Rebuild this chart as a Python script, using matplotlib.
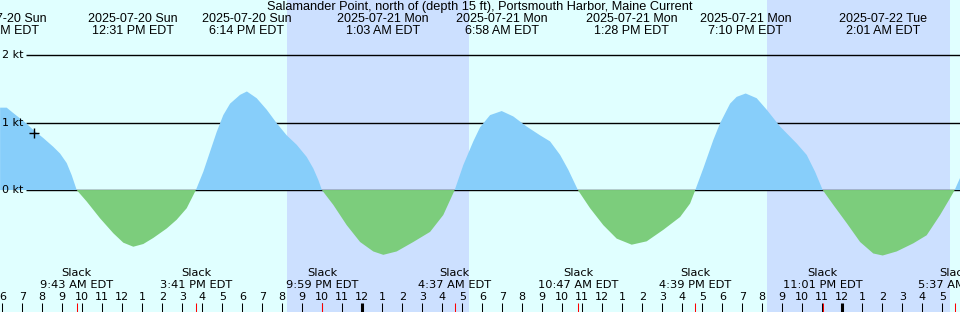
import numpy as np
import matplotlib.pyplot as plt

# --- Data (hours counted from 2025-07-20 00:00 EDT)
title = "Salamander Point, north of (depth 15 ft), Portsmouth Harbor, Maine Current"

curve_h = [5.89, 6.22, 6.55, 6.89, 7.19, 7.55, 8.05, 8.55, 8.89, 9.22, 9.47, 9.72,
           10.22, 10.89, 11.55, 12.05, 12.55, 13.05, 13.55, 14.22, 14.72, 15.22, 15.68,
           16.05, 16.39, 16.72, 17.05, 17.39, 17.89, 18.23, 18.72, 19.22, 19.72, 20.22,
           20.72, 21.22, 21.55, 21.80, 21.98,
           22.55, 23.22, 23.89, 24.55, 25.05, 25.72, 26.55, 27.39, 28.05, 28.62,
           29.05, 29.55, 29.89, 30.39, 30.97, 31.55, 32.22, 32.89, 33.39, 33.89, 34.30, 34.78,
           35.39, 36.05, 36.72, 37.47, 38.22, 39.05, 39.89, 40.39, 40.65,
           41.05, 41.55, 41.89, 42.39, 42.72, 43.17, 43.72, 44.22, 44.89, 45.72, 46.22, 46.64, 47.02,
           47.55, 48.22, 48.89, 49.55, 50.02, 50.72, 51.55, 52.22, 52.89, 53.39, 53.62, 53.89]
curve_kt = [1.22, 1.22, 1.14, 1.06, 0.99, 0.89, 0.77, 0.64, 0.54, 0.40, 0.22, 0.0,
            -0.17, -0.42, -0.64, -0.78, -0.84, -0.80, -0.71, -0.57, -0.44, -0.27, 0.0,
            0.27, 0.57, 0.86, 1.11, 1.28, 1.41, 1.46, 1.36, 1.19, 0.99, 0.81,
            0.67, 0.49, 0.32, 0.15, 0.0,
            -0.22, -0.52, -0.77, -0.91, -0.96, -0.91, -0.77, -0.62, -0.37, 0.0,
            0.37, 0.72, 0.93, 1.11, 1.17, 1.09, 0.94, 0.81, 0.72, 0.52, 0.30, 0.0,
            -0.27, -0.52, -0.72, -0.81, -0.76, -0.59, -0.40, -0.20, 0.0,
            0.32, 0.74, 0.99, 1.28, 1.38, 1.43, 1.36, 1.19, 0.94, 0.69, 0.52, 0.27, 0.0,
            -0.22, -0.49, -0.77, -0.94, -0.97, -0.91, -0.79, -0.67, -0.37, -0.12, 0.0, 0.18]

max_h = [5.98, 12.52, 18.23, 25.05, 30.97, 37.47, 43.17, 50.02]
max_dates = ["2025-07-20 Sun", "2025-07-20 Sun", "2025-07-20 Sun", "2025-07-21 Mon",
             "2025-07-21 Mon", "2025-07-21 Mon", "2025-07-21 Mon", "2025-07-22 Tue"]
max_times = ["5:59 AM EDT", "12:31 PM EDT", "6:14 PM EDT", "1:03 AM EDT",
             "6:58 AM EDT", "1:28 PM EDT", "7:10 PM EDT", "2:01 AM EDT"]

slack_h = [9.72, 15.68, 21.98, 28.62, 34.78, 40.65, 47.02, 53.62]
slack_times = ["9:43 AM EDT", "3:41 PM EDT", "9:59 PM EDT", "4:37 AM EDT",
               "10:47 AM EDT", "4:39 PM EDT", "11:01 PM EDT", "5:37 AM EDT"]

night_start = [20.22, 44.22]
night_end = [29.33, 53.40]

levels = [0, 1, 2]
now_h, now_kt = 7.585, 0.84

# --- Colors
bg = '#E0FFFF'
night = '#CCE0FF'
flood = '#87CEFA'
ebb = '#7CCD7C'

W, H = 960, 312
x0, x1 = 5.885, 53.885
fig = plt.figure(figsize=(W / 100, H / 100), dpi=100, facecolor=bg)
ax = fig.add_axes([0, 0, 1, 1])
ax.set_facecolor(bg)
ax.set_xlim(x0, x1)
ax.set_ylim(-1.807, 2.815)
ax.axis('off')

def fy(px):
	return 1 - px / H

xt = ax.get_xaxis_transform()
top_font = dict(family='Liberation Sans', fontsize=9)

for a, b in zip(night_start, night_end):
	ax.axvspan(a, b, color=night, lw=0, zorder=0)

h = np.array(curve_h)
v = np.array(curve_kt)
ax.fill_between(h, v, 0, where=v >= 0, interpolate=True, color=flood, lw=0, zorder=2)
ax.fill_between(h, v, 0, where=v <= 0, interpolate=True, color=ebb, lw=0, zorder=2)

for lv in levels:
	ax.hlines(lv, x0 + 26 / 20, x1, color='black', lw=1.0, zorder=1)
	ax.text(x0 + 2 / 20, lv, "%d kt" % lv, ha='left', va='center', fontsize=8)

ax.plot([now_h], [now_kt], marker='+', color='black', ms=6.5, mew=1, zorder=4)

ax.text(0.5, fy(7), title, transform=ax.transAxes, ha='center', va='center',
        family='Liberation Sans', fontsize=9.2)
for t, d, s in zip(max_h, max_dates, max_times):
	ax.text(t, fy(19.5), d, transform=xt, ha='center', va='center', **top_font)
	ax.text(t, fy(31.5), s, transform=xt, ha='center', va='center', **top_font)

for t, s in zip(slack_h, slack_times):
	ax.text(t, fy(273.5), "Slack", transform=xt, ha='center', va='center', fontsize=8.2)
	ax.text(t, fy(285.5), s, transform=xt, ha='center', va='center', fontsize=8.2)

# hour ticks along the bottom
hours = np.arange(6, 54)
tick_top = 9.5 / H
for hr in hours:
	lw = 2.2 if hr % 24 == 0 else 0.75
	ax.vlines(hr, 0, tick_top, transform=xt, color='black', lw=lw, zorder=3)
	ax.text(hr, fy(297.5), str((hr - 1) % 12 + 1), transform=xt,
	        ha='center', va='center', fontsize=8)
ax.vlines(slack_h, 0, tick_top, transform=xt, color='red', lw=0.75, zorder=3)

fig.savefig('out.png', dpi=100, facecolor=bg)
